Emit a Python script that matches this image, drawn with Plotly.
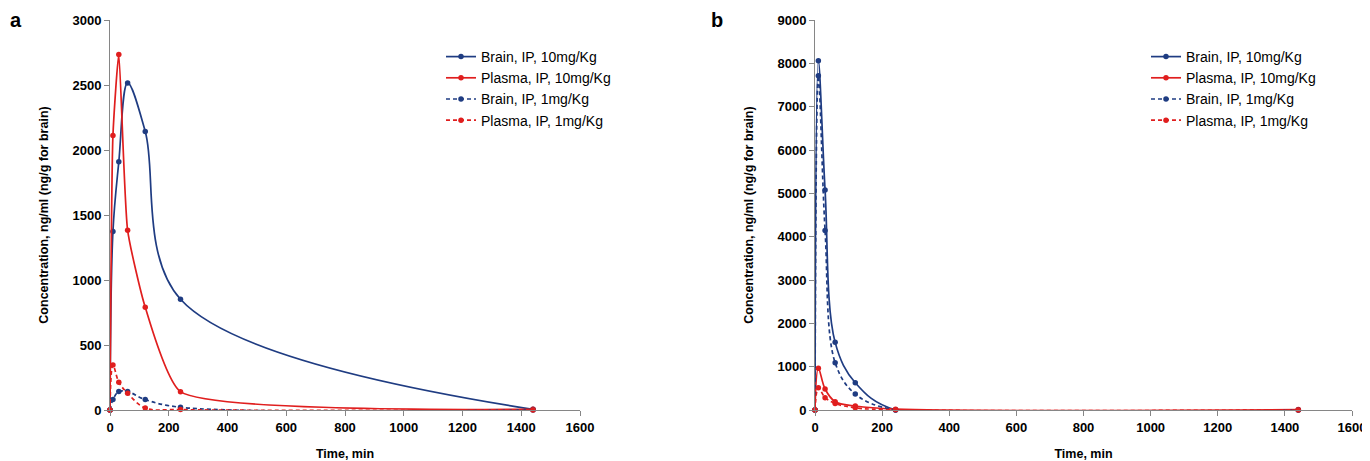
import plotly.graph_objects as go

# ---- data ----
time_min = [0, 10, 30, 60, 120, 240, 1440]

# panel a
brain10_a = [0, 1374, 1909, 2516, 2143, 852, 5]
plasma10_a = [0, 2112, 2735, 1382, 790, 141, 5]
brain1_a = [0, 80, 142, 142, 80, 21, 0]
plasma1_a = [0, 347, 214, 129, 15, 3, 0]

# panel b
brain10_b = [0, 8060, 5075, 1561, 630, 0, 0]
plasma10_b = [0, 961, 485, 192, 92, 20, 10]
brain1_b = [0, 7713, 4145, 1092, 369, 0, 0]
plasma1_b = [0, 515, 285, 150, 50, 5, 0]

names = ["Brain, IP, 10mg/Kg", "Plasma, IP, 10mg/Kg", "Brain, IP, 1mg/Kg", "Plasma, IP, 1mg/Kg"]
x_ticks = [0, 200, 400, 600, 800, 1000, 1200, 1400, 1600]

BLUE = "#1F3C82"
RED = "#E01E1E"
FONT = "Liberation Sans, Arial, sans-serif"

W, H = 1370, 461
OFF = 8  # page body margin of the browser

def px_x(v):
    return (v - OFF) / W

def px_y(v):
    return 1 - (v - OFF) / H

fig = go.Figure()

series_a = [brain10_a, plasma10_a, brain1_a, plasma1_a]
series_b = [brain10_b, plasma10_b, brain1_b, plasma1_b]
colors = [BLUE, RED, BLUE, RED]
dashes = ["solid", "solid", "4px,3px", "4px,3px"]
smooth_a = [1.0, 0.5, 1.0, 1.0]
smooth_b = [1.0, 1.0, 1.0, 1.0]

for i, ys in enumerate(series_a):
    fig.add_trace(go.Scatter(
        x=time_min, y=ys, name=names[i], mode="lines+markers",
        line=dict(color=colors[i], width=1.7, dash=dashes[i], shape="spline", smoothing=smooth_a[i]),
        marker=dict(color=colors[i], size=5.5),
        xaxis="x", yaxis="y", legend="legend", cliponaxis=False,
    ))
for i, ys in enumerate(series_b):
    fig.add_trace(go.Scatter(
        x=time_min, y=ys, name=names[i], mode="lines+markers",
        line=dict(color=colors[i], width=1.7, dash=dashes[i], shape="spline", smoothing=smooth_b[i]),
        marker=dict(color=colors[i], size=5.5),
        xaxis="x2", yaxis="y2", legend="legend2", cliponaxis=False,
    ))

axis_common = dict(
    showgrid=False, zeroline=False, showline=True, linecolor="#868686", linewidth=1,
    ticks="outside", ticklen=5, tickcolor="#868686", automargin=False,
    tickfont=dict(family=FONT, size=13, color="black", weight="bold"),
)

ydom = [px_y(410), px_y(20)]
title_font = dict(family=FONT, size=12.5, color="black", weight="bold")
legend_common = dict(xanchor="left", yanchor="top", bgcolor="rgba(0,0,0,0)",
                     font=dict(family=FONT, size=14, color="black"), tracegroupgap=0, itemwidth=30)

fig.update_layout(
    width=W, height=H,
    margin=dict(l=0, r=0, t=0, b=0),
    paper_bgcolor="white", plot_bgcolor="white",
    font=dict(family=FONT, size=12, color="black"),
    showlegend=True,
    xaxis=dict(domain=[px_x(110), px_x(580)], range=[0, 1600], tickvals=x_ticks, anchor="y",
               title=dict(text="Time, min", font=title_font, standoff=15), **axis_common),
    yaxis=dict(domain=ydom, range=[0, 3000], dtick=500, anchor="x",
               title=dict(text="Concentration, ng/ml (ng/g for brain)", font=title_font, standoff=21),
               **axis_common),
    xaxis2=dict(domain=[px_x(815), px_x(1352)], range=[0, 1600], tickvals=x_ticks, anchor="y2",
                title=dict(text="Time, min", font=title_font, standoff=15), **axis_common),
    yaxis2=dict(domain=ydom, range=[0, 9000], dtick=1000, anchor="x2",
                title=dict(text="Concentration, ng/ml (ng/g for brain)", font=title_font, standoff=21),
                **axis_common),
    legend=dict(x=px_x(441), y=px_y(41), **legend_common),
    legend2=dict(x=px_x(1146), y=px_y(41), **legend_common),
    annotations=[
        dict(text="<b>a</b>", x=px_x(8), y=px_y(7), xref="paper", yref="paper",
             xanchor="left", yanchor="top", showarrow=False, font=dict(family=FONT, size=20)),
        dict(text="<b>b</b>", x=px_x(709), y=px_y(7), xref="paper", yref="paper",
             xanchor="left", yanchor="top", showarrow=False, font=dict(family=FONT, size=20)),
    ],
)

fig.write_html("out.html")
